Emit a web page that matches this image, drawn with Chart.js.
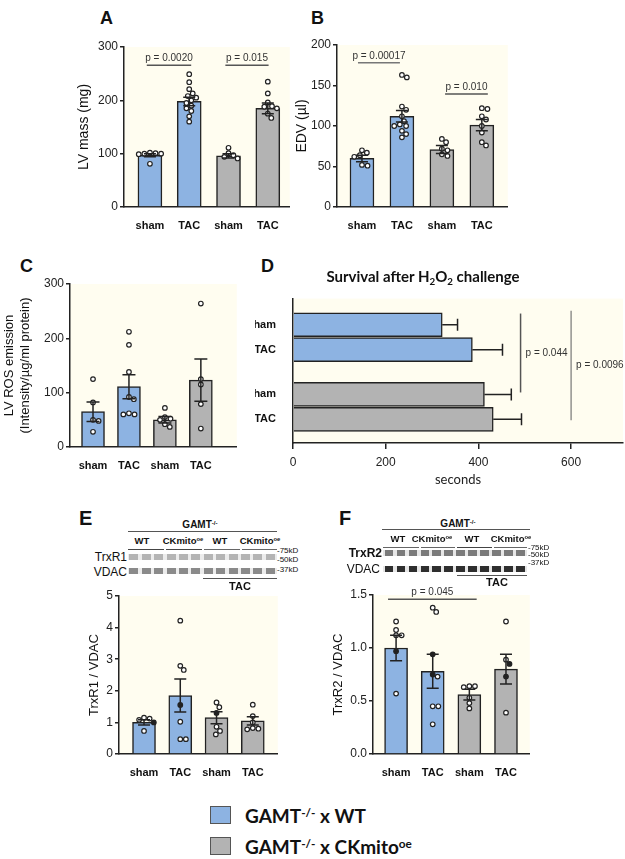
<!DOCTYPE html>
<html lang="en">
<head>
<meta charset="UTF-8">
<title>GAMT x CKmito figure</title>
<script src="https://cdn.jsdelivr.net/npm/chart.js"></script>
<style>
  body { margin: 0; background: #fff; }
  #fig { position: relative; width: 625px; height: 859px; overflow: hidden;
         font-family: 'Liberation Sans', Arial, sans-serif; color: #111; }
  canvas { position: absolute; }
  .t { position: absolute; white-space: nowrap; line-height: 1; }
  .c { transform: translate(-50%, -50%); }
  .r { transform: translate(-100%, -50%); }
  .l { transform: translate(0, -50%); }
  .letter { font-weight: bold; font-size: 18px; }
  .big { font-size: 20px; }
  .b { font-weight: bold; }
  .hl { position: absolute; border-top: 1px solid #555; height: 0; }
  .band { position: absolute; height: 6px; }
  sup { font-size: 0.62em; vertical-align: baseline; position: relative; top: -0.55em; }
  .sq { position: absolute; width: 19px; height: 16px; border: 1.5px solid #555; }
  .leg { font-family: Lato, 'Open Sans', sans-serif; font-weight: bold; font-size: 19px; }
</style>
</head>
<body>
<div id="fig">
  <!-- panel letters -->
  <div class="t letter" style="left:100px;top:9px">A</div>
  <div class="t letter" style="left:311px;top:9px">B</div>
  <div class="t letter" style="left:20px;top:257px">C</div>
  <div class="t letter" style="left:261px;top:257px">D</div>
  <div class="t letter big" style="left:79px;top:508px">E</div>
  <div class="t letter big" style="left:339px;top:508px">F</div>

  <canvas id="chartA" width="225" height="200" style="left:70px;top:30px"></canvas>
  <canvas id="chartB" width="223" height="200" style="left:290px;top:30px"></canvas>
  <canvas id="chartC" width="242" height="202" style="left:0px;top:268px"></canvas>
  <canvas id="chartD" width="370" height="208" style="left:255px;top:283px"></canvas>
  <canvas id="chartE" width="203" height="194" style="left:80px;top:582px"></canvas>
  <canvas id="chartF" width="210" height="195" style="left:325px;top:581px"></canvas>

  <div class="t c leg" style="left:423px;top:276px;font-size:15px">Survival after H<span style="font-size:0.65em;position:relative;top:0.35em">2</span>O<span style="font-size:0.65em;position:relative;top:0.35em">2</span> challenge</div>

  <!-- E blot -->
  <div class="t c b" style="left:200px;top:525px;font-size:10px">GAMT<sup>-/-</sup></div>
  <div class="hl" style="left:128px;top:531px;width:149px"></div>
  <div class="t c b" style="left:142px;top:541px;font-size:9.5px">WT</div>
  <div class="t c b" style="left:183px;top:541px;font-size:9.5px">CKmito<sup>oe</sup></div>
  <div class="t c b" style="left:220px;top:541px;font-size:9.5px">WT</div>
  <div class="t c b" style="left:260px;top:541px;font-size:9.5px">CKmito<sup>oe</sup></div>
  <div class="hl" style="left:128px;top:549px;width:36px;border-top:1.5px solid #444"></div>
  <div class="hl" style="left:166px;top:549px;width:36px;border-top:1.5px solid #444"></div>
  <div class="hl" style="left:204px;top:549px;width:36px;border-top:1px solid #666"></div>
  <div class="hl" style="left:242px;top:549px;width:35px;border-top:1px solid #666"></div>
  <div class="band" style="left:128px;top:554px;width:149px;background:#ececec repeating-linear-gradient(90deg,transparent 0 1.5px,#b4b4b4 1.5px 10.5px,transparent 10.5px 12.4px)"></div>
  <div class="band" style="left:128px;top:568px;width:149px;background:#ececec repeating-linear-gradient(90deg,transparent 0 1.5px,#8a8a8a 1.5px 10.5px,transparent 10.5px 12.4px)"></div>
  <div class="t r" style="left:127px;top:557px;font-size:12px">TrxR1</div>
  <div class="t r" style="left:127px;top:572px;font-size:12px">VDAC</div>
  <div class="t l" style="left:277px;top:551px;font-size:8px">-75kD</div>
  <div class="t l" style="left:277px;top:560px;font-size:8px">-50kD</div>
  <div class="t l" style="left:277px;top:570px;font-size:8px">-37kD</div>
  <div class="hl" style="left:203px;top:578px;width:74px"></div>
  <div class="t c b" style="left:240px;top:586px;font-size:11px">TAC</div>

  <!-- F blot -->
  <div class="t c b" style="left:458px;top:524px;font-size:10px">GAMT<sup>-/-</sup></div>
  <div class="hl" style="left:382px;top:529px;width:148px"></div>
  <div class="t c b" style="left:398px;top:539px;font-size:9.5px">WT</div>
  <div class="t c b" style="left:432px;top:539px;font-size:9.5px">CKmito<sup>oe</sup></div>
  <div class="t c b" style="left:472px;top:539px;font-size:9.5px">WT</div>
  <div class="t c b" style="left:511px;top:539px;font-size:9.5px">CKmito<sup>oe</sup></div>
  <div class="hl" style="left:383px;top:547px;width:36px;border-top:1px solid #666"></div>
  <div class="hl" style="left:421px;top:547px;width:34px;border-top:1px solid #666"></div>
  <div class="hl" style="left:457px;top:547px;width:35px;border-top:1.5px solid #444"></div>
  <div class="hl" style="left:494px;top:547px;width:33px;border-top:1px solid #666"></div>
  <div class="band" style="left:383px;top:550px;width:144px;background:#e6e6e6 repeating-linear-gradient(90deg,transparent 0 1.5px,#7a7a7a 1.5px 10px,transparent 10px 12px)"></div>
  <div class="band" style="left:383px;top:566px;width:144px;background:#e6e6e6 repeating-linear-gradient(90deg,transparent 0 1.5px,#2e2e2e 1.5px 10px,transparent 10px 12px)"></div>
  <div class="t r b" style="left:382px;top:553px;font-size:12px">TrxR2</div>
  <div class="t r" style="left:380px;top:569px;font-size:12px">VDAC</div>
  <div class="t l" style="left:528px;top:548px;font-size:8px">-75kD</div>
  <div class="t l" style="left:528px;top:555px;font-size:8px">-50kD</div>
  <div class="t l" style="left:528px;top:563px;font-size:8px">-37kD</div>
  <div class="hl" style="left:457px;top:575px;width:70px"></div>
  <div class="t c b" style="left:497px;top:582px;font-size:11px">TAC</div>

  <!-- legend -->
  <div class="sq" style="left:210px;top:806px;background:#8db3e2"></div>
  <div class="t l leg" style="left:245px;top:815px">GAMT<sup>-/-</sup> x WT</div>
  <div class="sq" style="left:210px;top:837px;background:#b3b3b3"></div>
  <div class="t l leg" style="left:245px;top:846px">GAMT<sup>-/-</sup> x CKmito<sup>oe</sup></div>
</div>

<script>
// ---- data ----
const groups = ['sham', 'TAC', 'sham', 'TAC'];
const groupColors = ['#8db3e2', '#8db3e2', '#b3b3b3', '#b3b3b3'];

// A: LV mass (mg)
const massMean = [97, 198, 96, 185];
const massSem = [3, 8, 4, 10];
const massPts = [
    [101, 100, 99, 100, 102, 81],
    [249, 234, 221, 213, 208, 205, 200, 195, 190, 185, 180, 170, 160],
    [111, 101, 97, 94, 91],
    [235, 213, 196, 189, 188, 185, 175, 167]
];

// B: EDV (µl)
const edvMean = [60, 112, 71, 101];
const edvSem = [4, 7, 5, 7];
const edvPts = [
    [70, 67, 64, 62, 52, 51],
    [163, 160, 124, 120, 112, 106, 102, 100, 100, 94, 90, 86],
    [84, 80, 72, 70, 65, 63],
    [122, 121, 112, 108, 100, 92, 80, 76]
];

// C: LV ROS emission
const rosMean = [65, 111, 50, 123];
const rosSem = [18, 22, 6, 39];
const rosPts = [
    [125, 82, 50, 48, 28],
    [212, 188, 138, 92, 88, 62, 60, 60],
    [72, 55, 52, 50, 42, 37],
    [264, 125, 115, 79, 34]
];

// D: survival after H2O2 challenge (seconds)
const survMean = [322, 387, 413, 432];
const survSem = [33, 65, 58, 61];

// E: TrxR1 / VDAC
const trx1Mean = [1.0, 1.85, 1.15, 1.05];
const trx1Sem = [0.08, 0.52, 0.19, 0.13];
const trx1Pts = [
    [1.15, 1.12, 1.08, 0.73],
    [4.22, 2.79, 2.66, 1.02, 0.47, 0.47],
    [1.63, 1.48, 0.86, 0.73, 0.62],
    [1.56, 1.2, 1.0, 0.8, 0.78, 0.82]
];
const trx1Filled = [[1.0], [1.55], [1.3], []];

// F: TrxR2 / VDAC
const trx2Mean = [1.0, 0.78, 0.56, 0.8];
const trx2Sem = [0.12, 0.16, 0.05, 0.14];
const trx2Pts = [
    [1.25, 1.17, 1.12, 1.12, 0.57],
    [1.38, 1.34, 0.73, 0.45, 0.45, 0.28],
    [0.64, 0.64, 0.63, 0.53, 0.48, 0.43],
    [1.25, 0.89, 0.39]
];
const trx2Filled = [[0.97], [0.94, 0.75], [], [0.85, 0.73]];

// ---- drawing ----
const ink = '#222';
const cream = '#fffdf0';
const sans = "'Liberation Sans', Arial, sans-serif";

const plotBg = {
    id: 'plotBg',
    beforeDraw(chart) {
        const a = chart.chartArea, c = chart.ctx;
        c.save();
        c.fillStyle = cream;
        c.fillRect(a.left, a.top, a.right - a.left, a.bottom - a.top);
        c.restore();
    }
};

function errBars(means, sems, opt) {
    return {
        id: 'errBars',
        afterDatasetsDraw(chart) {
            const c = chart.ctx, xs = chart.scales.x, ys = chart.scales.y;
            c.save();
            c.strokeStyle = ink;
            c.lineWidth = 1.5;
            means.forEach((m, i) => {
                c.beginPath();
                if (opt.rows) {
                    const y = ys.getPixelForValue(opt.rows[i]);
                    const x1 = xs.getPixelForValue(m), x2 = xs.getPixelForValue(m + sems[i]);
                    c.moveTo(x1, y); c.lineTo(x2, y);
                    c.moveTo(x2, y - opt.cap / 2); c.lineTo(x2, y + opt.cap / 2);
                } else {
                    const x = xs.getPixelForValue(i);
                    const y1 = ys.getPixelForValue(m - sems[i]), y2 = ys.getPixelForValue(m + sems[i]);
                    c.moveTo(x, y1); c.lineTo(x, y2);
                    c.moveTo(x - opt.cap / 2, y1); c.lineTo(x + opt.cap / 2, y1);
                    c.moveTo(x - opt.cap / 2, y2); c.lineTo(x + opt.cap / 2, y2);
                }
                c.stroke();
            });
            c.restore();
        }
    };
}

function pLines(list) {
    return {
        id: 'pLines',
        afterDraw(chart) {
            const c = chart.ctx, xs = chart.scales.x, ys = chart.scales.y;
            c.save();
            c.font = '10px ' + sans;
            c.fillStyle = '#333';
            list.forEach(p => {
                c.strokeStyle = p.color || '#555';
                c.lineWidth = p.width || 1.5;
                c.beginPath();
                if (p.vertical) {
                    const x = xs.getPixelForValue(p.at);
                    const y1 = ys.getPixelForValue(p.a), y2 = ys.getPixelForValue(p.b);
                    c.moveTo(x, y1); c.lineTo(x, y2); c.stroke();
                    c.textAlign = 'left'; c.textBaseline = 'middle';
                    c.fillText(p.text, x + 5, (y1 + y2) / 2);
                } else {
                    const y = ys.getPixelForValue(p.at);
                    const x1 = xs.getPixelForValue(p.a), x2 = xs.getPixelForValue(p.b);
                    c.moveTo(x1, y); c.lineTo(x2, y); c.stroke();
                    c.textAlign = 'center'; c.textBaseline = 'bottom';
                    c.fillText(p.text, (x1 + x2) / 2, y - 2);
                }
            });
            c.restore();
        }
    };
}

// spread the dots of each group sideways so they do not overlap (beeswarm)
function swarm(chart, pts, filled) {
    const xs = chart.scales.x, ys = chart.scales.y;
    const ux = Math.abs(xs.getPixelForValue(1) - xs.getPixelForValue(0));
    const uy = Math.abs(ys.getPixelForValue(1) - ys.getPixelForValue(0));
    const gap = 5.2;
    const open = [], full = [];
    pts.forEach((vals, g) => {
        const items = vals.map(v => ({ v: v, f: false }))
            .concat((filled ? filled[g] : []).map(v => ({ v: v, f: true })));
        items.sort((a, b) => b.v - a.v);
        const placed = [];
        items.forEach(it => {
            const py = it.v * uy;
            let dx = 0;
            for (let k = 0; k < 80; k++) {
                const cand = (k % 2 ? 1 : -1) * Math.ceil(k / 2) * 0.7;
                if (placed.every(p => Math.hypot(p.dx - cand, p.py - py) >= gap)) { dx = cand; break; }
            }
            placed.push({ dx: dx, py: py });
            (it.f ? full : open).push({ x: g + dx / ux, y: it.v });
        });
    });
    chart.data.datasets[1].data = open;
    chart.data.datasets[2].data = full;
    chart.update('none');
}

function barPanel(id, cfg) {
    const chart = new Chart(document.getElementById(id), {
        type: 'bar',
        data: {
            datasets: [
                {
                    type: 'bar',
                    data: cfg.means.map((m, i) => ({ x: i, y: m })),
                    backgroundColor: groupColors,
                    borderColor: ink,
                    borderWidth: 1.5,
                    barThickness: cfg.barW,
                    order: 3
                },
                {
                    type: 'scatter', data: [], pointRadius: 2.3,
                    pointBackgroundColor: '#fff', pointBorderColor: ink, pointBorderWidth: 1.2, order: 2
                },
                {
                    type: 'scatter', data: [], pointRadius: 2.3,
                    pointBackgroundColor: ink, pointBorderColor: ink, pointBorderWidth: 1.2, order: 1
                }
            ]
        },
        options: {
            responsive: false,
            animation: false,
            layout: { padding: { top: cfg.padTop, right: cfg.padRight } },
            plugins: { legend: { display: false }, tooltip: { enabled: false } },
            scales: {
                x: {
                    type: 'linear', min: cfg.xMin, max: cfg.xMax, offset: false,
                    afterBuildTicks: s => { s.ticks = groups.map((g, i) => ({ value: i })); },
                    ticks: { callback: v => groups[v], font: { family: sans, size: 11, weight: 'bold' }, color: '#111', padding: 4 },
                    grid: { display: false },
                    border: { color: ink, width: 1.5 },
                    afterFit: s => { s.height = cfg.xAxisH; }
                },
                y: {
                    min: 0, max: cfg.yMax,
                    ticks: { stepSize: cfg.yStep, callback: cfg.yFmt || (v => v), font: { family: sans, size: 12 }, color: '#222', padding: 2 },
                    grid: { drawOnChartArea: false, tickLength: 4, color: ink, lineWidth: 1.5 },
                    border: { color: ink, width: 1.5 },
                    title: { display: true, text: cfg.yTitle, font: { family: sans, size: cfg.titleSize || 14 }, color: '#111', padding: { top: cfg.titlePad, bottom: 0 } },
                    afterFit: s => { s.width = cfg.yAxisW; }
                }
            }
        },
        plugins: [plotBg, errBars(cfg.means, cfg.sems, { cap: cfg.cap }), pLines(cfg.pLines || [])]
    });
    swarm(chart, cfg.pts, cfg.filled);
    return chart;
}

barPanel('chartA', {
    means: massMean, sems: massSem, pts: massPts,
    yMax: 300, yStep: 100, yTitle: 'LV mass (mg)',
    xMin: -0.66, xMax: 3.56, barW: 24, cap: 12,
    yAxisW: 54, xAxisH: 23, padTop: 17, padRight: 5, titlePad: 6,
    pLines: [
        { a: -0.08, b: 1.05, at: 266, text: 'p = 0.0020' },
        { a: 1.92, b: 3.02, at: 266, text: 'p = 0.015' }
    ]
});

barPanel('chartB', {
    means: edvMean, sems: edvSem, pts: edvPts,
    yMax: 200, yStep: 50, yTitle: 'EDV (µl)',
    xMin: -0.625, xMax: 3.65, barW: 24, cap: 12,
    yAxisW: 47, xAxisH: 23, padTop: 15, padRight: 5, titlePad: 4,
    pLines: [
        { a: -0.1, b: 0.95, at: 178, text: 'p = 0.00017', color: '#777' },
        { a: 2.08, b: 3.15, at: 139.5, text: 'p = 0.010' }
    ]
});

barPanel('chartC', {
    means: rosMean, sems: rosSem, pts: rosPts,
    yMax: 300, yStep: 100, yTitle: ['LV ROS emission', '(Intensity/µg/ml protein)'], titleSize: 13,
    xMin: -0.64, xMax: 4.0, barW: 23, cap: 13,
    yAxisW: 70, xAxisH: 23, padTop: 16, padRight: 5, titlePad: 2
});

barPanel('chartE', {
    means: trx1Mean, sems: trx1Sem, pts: trx1Pts, filled: trx1Filled,
    yMax: 5, yStep: 1, yTitle: 'TrxR1 / VDAC', titleSize: 13,
    xMin: -0.69, xMax: 3.69, barW: 23, cap: 12,
    yAxisW: 39, xAxisH: 22, padTop: 14, padRight: 5, titlePad: 7
});

barPanel('chartF', {
    means: trx2Mean, sems: trx2Sem, pts: trx2Pts, filled: trx2Filled,
    yMax: 1.5, yStep: 0.5, yFmt: v => v.toFixed(1), yTitle: 'TrxR2 / VDAC', titleSize: 13,
    xMin: -0.63, xMax: 3.65, barW: 23, cap: 12,
    yAxisW: 48, xAxisH: 22, padTop: 14, padRight: 5, titlePad: 6,
    pLines: [{ a: -0.22, b: 2.2, at: 1.46, text: 'p = 0.045' }]
});

// D: horizontal bars, two groups of two rows
const survRows = [0, 1, 2.8, 3.8];
new Chart(document.getElementById('chartD'), {
    type: 'bar',
    data: {
        datasets: [{
            data: survMean.map((m, i) => ({ x: m, y: survRows[i] })),
            backgroundColor: groupColors,
            borderColor: ink,
            borderWidth: 1.5,
            barThickness: 24
        }]
    },
    options: {
        indexAxis: 'y',
        responsive: false,
        animation: false,
        layout: { padding: { top: 7, right: 2 } },
        plugins: { legend: { display: false }, tooltip: { enabled: false } },
        scales: {
            x: {
                type: 'linear', min: 0, max: 712,
                afterBuildTicks: s => { s.ticks = [0, 200, 400, 600].map(v => ({ value: v })); },
                ticks: { font: { family: sans, size: 12 }, color: '#222', padding: 6 },
                grid: { drawOnChartArea: false, tickLength: 6, color: ink, lineWidth: 1.5 },
                border: { color: ink, width: 1.5 },
                title: { display: true, text: 'seconds', font: { family: "Lato, 'Open Sans', sans-serif", size: 13 }, color: '#222', padding: { top: 2, bottom: 3 } },
                afterFit: s => { s.height = 48; }
            },
            y: {
                type: 'linear', reverse: true, min: -1.05, max: 4.75, offset: false,
                afterBuildTicks: s => { s.ticks = survRows.map(v => ({ value: v })); },
                ticks: { callback: v => groups[survRows.indexOf(v)], font: { family: sans, size: 11, weight: 'bold' }, color: '#111', padding: 9 },
                grid: { display: false },
                border: { color: ink, width: 1.5 },
                afterFit: s => { s.width = 38; }
            }
        }
    },
    plugins: [
        plotBg,
        errBars(survMean, survSem, { rows: survRows, cap: 12 }),
        pLines([
            { vertical: true, at: 491, a: -0.45, b: 2.72, text: 'p = 0.044' },
            { vertical: true, at: 600, a: -0.56, b: 3.84, text: 'p = 0.0096', color: '#777', width: 1.2 }
        ])
    ]
});
</script>
</body>
</html>
